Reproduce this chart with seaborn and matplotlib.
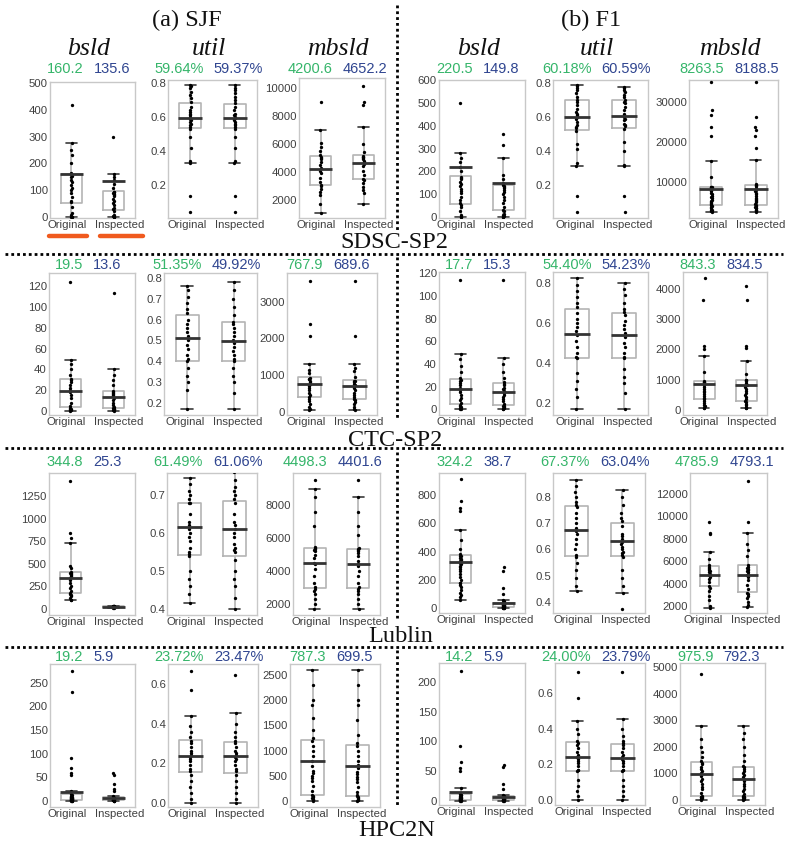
import matplotlib
matplotlib.use("Agg")
import matplotlib.pyplot as plt
import pandas as pd
import seaborn as sns
from matplotlib.lines import Line2D
from matplotlib.transforms import ScaledTranslation

# ---------------- data ----------------
groups = ["Original", "Inspected"]
metrics = ["bsld", "util", "mbsld"]
methods = ["SJF", "F1"]
method_titles = ["(a) SJF", "(b) F1"]
workloads = ["SDSC-SP2", "CTC-SP2", "Lublin", "HPC2N"]

# SDSC-SP2 / SJF
sdsc_sjf_bsld_original = [0, 1, 3, 8, 15, 40, 57, 62, 75, 90, 100, 110, 120, 130, 140, 150, 155, 160, 165, 200, 230, 250, 275, 415]
sdsc_sjf_bsld_inspected = [0, 1, 2, 5, 10, 25, 30, 35, 45, 55, 60, 70, 78, 84, 88, 91, 93, 96, 110, 125, 140, 150, 160, 300]
sdsc_sjf_util_original = [0.04, 0.135, 0.33, 0.34, 0.42, 0.48, 0.53, 0.54, 0.55, 0.56, 0.57, 0.58, 0.59, 0.60, 0.61, 0.62, 0.63, 0.64, 0.66, 0.69, 0.71, 0.73, 0.75, 0.77, 0.78, 0.79]
sdsc_sjf_util_inspected = [0.04, 0.135, 0.33, 0.34, 0.42, 0.48, 0.53, 0.54, 0.55, 0.56, 0.57, 0.58, 0.59, 0.595, 0.60, 0.61, 0.62, 0.64, 0.66, 0.68, 0.70, 0.72, 0.74, 0.76, 0.77, 0.79]
sdsc_sjf_mbsld_original = [1100, 1700, 2400, 2600, 2800, 3000, 3100, 3300, 3600, 3900, 4100, 4300, 4500, 4700, 4900, 5000, 5100, 5200, 5500, 5800, 6100, 7000, 9000]
sdsc_sjf_mbsld_inspected = [1700, 2500, 2700, 2900, 3200, 3400, 3500, 3800, 4100, 4400, 4600, 4700, 4800, 4900, 5000, 5050, 5100, 5150, 5400, 6000, 7200, 8800, 9000, 10100]
sdsc_sjf_means = [160.2, 135.6, 0.5964, 0.5937, 4200.6, 4652.2]

# SDSC-SP2 / F1
sdsc_f1_bsld_original = [0, 2, 10, 25, 45, 55, 60, 75, 90, 105, 115, 125, 135, 145, 155, 165, 170, 174, 200, 220, 240, 260, 280, 500]
sdsc_f1_bsld_inspected = [0, 1, 3, 8, 15, 28, 32, 45, 60, 75, 90, 100, 110, 120, 128, 133, 137, 140, 150, 165, 185, 260, 315, 365]
sdsc_f1_util_original = [0.04, 0.135, 0.31, 0.33, 0.41, 0.44, 0.52, 0.535, 0.54, 0.55, 0.57, 0.59, 0.60, 0.61, 0.62, 0.63, 0.65, 0.67, 0.69, 0.70, 0.72, 0.74, 0.76, 0.77, 0.78, 0.79]
sdsc_f1_util_inspected = [0.04, 0.135, 0.31, 0.32, 0.40, 0.45, 0.53, 0.545, 0.55, 0.56, 0.58, 0.59, 0.60, 0.61, 0.62, 0.64, 0.66, 0.68, 0.69, 0.70, 0.72, 0.73, 0.75, 0.76, 0.77, 0.775]
sdsc_f1_mbsld_original = [2500, 2700, 2900, 3100, 3400, 3700, 4000, 4200, 4400, 4700, 5000, 5300, 5600, 5900, 6200, 6500, 6900, 7300, 7700, 8100, 8400, 8600, 8700, 8750, 8800, 11200, 15200, 21400, 23700, 26700, 27900, 35000]
sdsc_f1_mbsld_inspected = [2500, 2700, 2900, 3100, 3400, 3600, 3800, 4000, 4300, 4600, 4900, 5200, 5500, 5800, 6100, 6500, 6900, 7300, 7700, 8100, 8500, 8900, 9200, 9300, 9400, 15500, 18500, 21400, 23000, 23700, 26200, 35000]
sdsc_f1_means = [220.5, 149.8, 0.6018, 0.6059, 8263.5, 8188.5]

# CTC-SP2 / SJF
ctc_sjf_bsld_original = [0, 0.5, 1, 1.5, 2, 3, 5, 8, 12, 15, 18, 20, 22, 25, 28, 30, 31, 35, 40, 45, 49, 124]
ctc_sjf_bsld_inspected = [0, 0.5, 1, 1.5, 2, 2.5, 4, 6, 8, 10, 12, 14, 15, 16, 17, 18, 19, 25, 30, 35, 40, 114]
ctc_sjf_util_original = [0.17, 0.26, 0.30, 0.33, 0.37, 0.40, 0.41, 0.43, 0.46, 0.48, 0.50, 0.52, 0.54, 0.56, 0.58, 0.60, 0.63, 0.65, 0.68, 0.71, 0.74, 0.76]
ctc_sjf_util_inspected = [0.17, 0.25, 0.30, 0.33, 0.37, 0.40, 0.41, 0.43, 0.45, 0.47, 0.49, 0.50, 0.52, 0.54, 0.56, 0.58, 0.59, 0.62, 0.66, 0.70, 0.74, 0.78]
ctc_sjf_mbsld_original = [50, 80, 120, 200, 280, 350, 400, 450, 500, 600, 650, 700, 750, 800, 850, 880, 900, 920, 1050, 1150, 1300, 2050, 2400, 3550]
ctc_sjf_mbsld_inspected = [50, 80, 120, 200, 260, 320, 340, 400, 450, 520, 580, 640, 680, 720, 760, 800, 830, 850, 950, 1100, 1200, 1300, 2050, 3550]
ctc_sjf_means = [19.5, 13.6, 0.5135, 0.4992, 767.9, 689.6]

# CTC-SP2 / F1
ctc_f1_bsld_original = [0, 0.5, 1, 2, 3, 4, 6, 8, 10, 13, 15, 17, 19, 21, 23, 25, 26, 28, 33, 38, 44, 49, 114]
ctc_f1_bsld_inspected = [0, 0.5, 1, 2, 2.5, 3, 5, 7, 9, 11, 13, 14, 16, 18, 19, 21, 22, 24, 28, 33, 40, 45, 114]
ctc_f1_util_original = [0.17, 0.23, 0.27, 0.31, 0.35, 0.425, 0.43, 0.45, 0.48, 0.51, 0.54, 0.56, 0.58, 0.60, 0.62, 0.65, 0.68, 0.70, 0.73, 0.76, 0.79, 0.825]
ctc_f1_util_inspected = [0.17, 0.25, 0.30, 0.33, 0.37, 0.425, 0.43, 0.45, 0.48, 0.50, 0.53, 0.55, 0.57, 0.59, 0.61, 0.64, 0.655, 0.67, 0.70, 0.74, 0.77, 0.80]
ctc_f1_mbsld_original = [50, 80, 120, 160, 220, 300, 360, 400, 450, 520, 580, 640, 700, 760, 810, 850, 890, 920, 940, 960, 1250, 1780, 2000, 2100, 3650, 4350]
ctc_f1_mbsld_inspected = [50, 80, 110, 150, 200, 260, 300, 350, 420, 500, 570, 640, 700, 760, 820, 860, 900, 950, 980, 1000, 1200, 1620, 2060, 2120, 3650, 4100]
ctc_f1_means = [17.7, 15.3, 0.5440, 0.5423, 843.3, 834.5]

# Lublin / SJF
lublin_sjf_bsld_original = [95, 105, 120, 140, 160, 170, 180, 200, 230, 260, 290, 320, 345, 360, 375, 385, 395, 400, 410, 450, 480, 730, 780, 840, 1420]
lublin_sjf_bsld_inspected = [12, 15, 18, 20, 22, 23, 24, 25, 26, 27, 28, 30, 32, 35, 38]
lublin_sjf_util_original = [0.415, 0.44, 0.46, 0.48, 0.50, 0.54, 0.545, 0.55, 0.56, 0.58, 0.59, 0.60, 0.61, 0.62, 0.63, 0.65, 0.68, 0.68, 0.69, 0.70, 0.71, 0.73, 0.745]
lublin_sjf_util_inspected = [0.40, 0.43, 0.46, 0.48, 0.50, 0.53, 0.55, 0.555, 0.56, 0.57, 0.59, 0.60, 0.61, 0.62, 0.63, 0.65, 0.68, 0.69, 0.70, 0.71, 0.72, 0.74, 0.76]
lublin_sjf_mbsld_original = [1700, 2000, 2300, 2600, 2800, 2900, 3000, 3300, 3700, 4100, 4400, 4500, 4800, 5000, 5200, 5300, 5350, 5400, 5450, 6700, 7600, 8500, 9000, 9500]
lublin_sjf_mbsld_inspected = [1700, 2000, 2300, 2600, 2800, 2900, 3000, 3300, 3700, 4000, 4300, 4400, 4600, 4900, 5100, 5200, 5300, 5350, 5400, 6200, 6700, 7600, 8500, 9500]
lublin_sjf_means = [344.8, 25.3, 0.6149, 0.6106, 4498.3, 4401.6]

# Lublin / F1
lublin_f1_bsld_original = [60, 75, 90, 110, 130, 150, 165, 175, 180, 200, 220, 240, 260, 275, 290, 300, 310, 320, 330, 340, 345, 355, 365, 372, 380, 420, 480, 550, 690, 710, 760, 910]
lublin_f1_bsld_inspected = [0, 1, 2, 3, 5, 6, 8, 10, 12, 14, 16, 18, 20, 22, 24, 26, 28, 30, 32, 35, 40, 50, 60, 100, 140, 260, 290]
lublin_f1_util_original = [0.44, 0.46, 0.49, 0.52, 0.55, 0.57, 0.58, 0.60, 0.62, 0.64, 0.66, 0.67, 0.68, 0.70, 0.72, 0.74, 0.76, 0.77, 0.78, 0.80, 0.82, 0.84, 0.865]
lublin_f1_util_inspected = [0.375, 0.435, 0.46, 0.49, 0.52, 0.57, 0.58, 0.585, 0.59, 0.60, 0.61, 0.62, 0.63, 0.64, 0.65, 0.66, 0.69, 0.71, 0.72, 0.74, 0.77, 0.80, 0.825]
lublin_f1_mbsld_original = [1800, 2000, 2500, 2900, 3300, 3600, 3800, 4100, 4400, 4600, 4800, 4900, 5000, 5100, 5200, 5300, 5400, 5500, 5700, 6200, 6800, 8400, 8500, 9500]
lublin_f1_mbsld_inspected = [1900, 2100, 2400, 2700, 2900, 3100, 3200, 3500, 3900, 4300, 4600, 4800, 4900, 5000, 5100, 5200, 5300, 5400, 5450, 5700, 6500, 7000, 7500, 8500, 9500, 13200]
lublin_f1_means = [324.2, 38.7, 0.6737, 0.6304, 4785.9, 4793.1]

# HPC2N / SJF
hpc_sjf_bsld_original = [0, 0.3, 0.6, 1, 1.3, 1.6, 2, 2.5, 3, 3.5, 4, 4.5, 5, 5.5, 6, 6.5, 7, 7.5, 8, 9, 10, 12, 15, 20, 55, 58, 70, 90, 230, 275]
hpc_sjf_bsld_inspected = [0, 0.3, 0.6, 1, 1.3, 1.6, 2, 2.5, 3, 3.5, 4, 4.5, 5, 5.5, 6, 6.5, 7, 8, 10, 20, 25, 35, 55, 58]
hpc_sjf_util_original = [0.0, 0.02, 0.05, 0.08, 0.11, 0.14, 0.16, 0.17, 0.19, 0.21, 0.22, 0.23, 0.24, 0.25, 0.26, 0.28, 0.30, 0.31, 0.33, 0.36, 0.39, 0.44, 0.57, 0.665]
hpc_sjf_util_inspected = [0.0, 0.02, 0.05, 0.08, 0.11, 0.14, 0.16, 0.17, 0.19, 0.21, 0.22, 0.23, 0.24, 0.25, 0.26, 0.28, 0.30, 0.31, 0.33, 0.36, 0.40, 0.455, 0.645]
hpc_sjf_mbsld_original = [0, 10, 20, 40, 60, 80, 100, 120, 200, 300, 400, 450, 500, 550, 600, 700, 800, 900, 1000, 1100, 1200, 1250, 1400, 1650, 1900, 2000, 2300, 2600]
hpc_sjf_mbsld_inspected = [0, 10, 20, 40, 60, 80, 95, 110, 180, 280, 380, 430, 480, 530, 580, 650, 720, 800, 900, 1000, 1100, 1150, 1300, 1600, 1900, 2000, 2300, 2600]
hpc_sjf_means = [19.2, 5.9, 0.2372, 0.2347, 787.3, 699.5]

# HPC2N / F1
hpc_f1_bsld_original = [0, 0.3, 0.6, 1, 1.3, 1.6, 2, 2.5, 3, 3.5, 4, 4.5, 5, 5.5, 6, 7, 8, 9, 10, 12, 22, 50, 55, 65, 92, 218]
hpc_f1_bsld_inspected = [0, 0.3, 0.6, 1, 1.3, 1.6, 2, 2.5, 3, 3.5, 4, 4.5, 5, 5.5, 6, 6.5, 7, 8, 10, 20, 28, 57, 60]
hpc_f1_util_original = [0.0, 0.02, 0.05, 0.08, 0.11, 0.16, 0.167, 0.17, 0.19, 0.21, 0.22, 0.23, 0.24, 0.25, 0.27, 0.29, 0.31, 0.32, 0.33, 0.37, 0.40, 0.445, 0.57, 0.72]
hpc_f1_util_inspected = [0.0, 0.02, 0.05, 0.08, 0.11, 0.16, 0.167, 0.17, 0.19, 0.21, 0.22, 0.23, 0.24, 0.25, 0.27, 0.29, 0.31, 0.32, 0.33, 0.36, 0.40, 0.455, 0.72]
hpc_f1_mbsld_original = [0, 20, 50, 80, 100, 120, 125, 135, 250, 400, 500, 600, 700, 800, 900, 1000, 1100, 1150, 1250, 1350, 1400, 1450, 1600, 1800, 2000, 2300, 2780, 4750]
hpc_f1_mbsld_inspected = [0, 20, 50, 80, 100, 120, 125, 135, 220, 320, 420, 520, 620, 700, 780, 860, 940, 1020, 1100, 1180, 1250, 1280, 1450, 1700, 2000, 2300, 2500, 2780]
hpc_f1_means = [14.2, 5.9, 0.2400, 0.2379, 975.9, 792.3]

# y tick labels per panel (workload, method) -> [bsld, util, mbsld]
yticks = {
    ("SDSC-SP2", "SJF"): [[0, 100, 200, 300, 400, 500], [0.2, 0.4, 0.6, 0.8], [2000, 4000, 6000, 8000, 10000]],
    ("SDSC-SP2", "F1"): [[0, 100, 200, 300, 400, 500, 600], [0.2, 0.4, 0.6, 0.8], [10000, 20000, 30000]],
    ("CTC-SP2", "SJF"): [[0, 20, 40, 60, 80, 100, 120], [0.2, 0.3, 0.4, 0.5, 0.6, 0.7, 0.8], [0, 1000, 2000, 3000]],
    ("CTC-SP2", "F1"): [[0, 20, 40, 60, 80, 100, 120], [0.2, 0.4, 0.6, 0.8], [0, 1000, 2000, 3000, 4000]],
    ("Lublin", "SJF"): [[0, 250, 500, 750, 1000, 1250], [0.4, 0.5, 0.6, 0.7], [2000, 4000, 6000, 8000]],
    ("Lublin", "F1"): [[0, 200, 400, 600, 800], [0.4, 0.5, 0.6, 0.7, 0.8], [2000, 4000, 6000, 8000, 10000, 12000]],
    ("HPC2N", "SJF"): [[0, 50, 100, 150, 200, 250], [0.0, 0.2, 0.4, 0.6], [0, 500, 1000, 1500, 2000, 2500]],
    ("HPC2N", "F1"): [[0, 50, 100, 150, 200], [0.0, 0.2, 0.4, 0.6], [0, 1000, 2000, 3000, 4000, 5000]],
}

series = {
    ("SDSC-SP2", "SJF"): [(sdsc_sjf_bsld_original, sdsc_sjf_bsld_inspected), (sdsc_sjf_util_original, sdsc_sjf_util_inspected), (sdsc_sjf_mbsld_original, sdsc_sjf_mbsld_inspected)],
    ("SDSC-SP2", "F1"): [(sdsc_f1_bsld_original, sdsc_f1_bsld_inspected), (sdsc_f1_util_original, sdsc_f1_util_inspected), (sdsc_f1_mbsld_original, sdsc_f1_mbsld_inspected)],
    ("CTC-SP2", "SJF"): [(ctc_sjf_bsld_original, ctc_sjf_bsld_inspected), (ctc_sjf_util_original, ctc_sjf_util_inspected), (ctc_sjf_mbsld_original, ctc_sjf_mbsld_inspected)],
    ("CTC-SP2", "F1"): [(ctc_f1_bsld_original, ctc_f1_bsld_inspected), (ctc_f1_util_original, ctc_f1_util_inspected), (ctc_f1_mbsld_original, ctc_f1_mbsld_inspected)],
    ("Lublin", "SJF"): [(lublin_sjf_bsld_original, lublin_sjf_bsld_inspected), (lublin_sjf_util_original, lublin_sjf_util_inspected), (lublin_sjf_mbsld_original, lublin_sjf_mbsld_inspected)],
    ("Lublin", "F1"): [(lublin_f1_bsld_original, lublin_f1_bsld_inspected), (lublin_f1_util_original, lublin_f1_util_inspected), (lublin_f1_mbsld_original, lublin_f1_mbsld_inspected)],
    ("HPC2N", "SJF"): [(hpc_sjf_bsld_original, hpc_sjf_bsld_inspected), (hpc_sjf_util_original, hpc_sjf_util_inspected), (hpc_sjf_mbsld_original, hpc_sjf_mbsld_inspected)],
    ("HPC2N", "F1"): [(hpc_f1_bsld_original, hpc_f1_bsld_inspected), (hpc_f1_util_original, hpc_f1_util_inspected), (hpc_f1_mbsld_original, hpc_f1_mbsld_inspected)],
}
means = {
    ("SDSC-SP2", "SJF"): sdsc_sjf_means, ("SDSC-SP2", "F1"): sdsc_f1_means,
    ("CTC-SP2", "SJF"): ctc_sjf_means, ("CTC-SP2", "F1"): ctc_f1_means,
    ("Lublin", "SJF"): lublin_sjf_means, ("Lublin", "F1"): lublin_f1_means,
    ("HPC2N", "SJF"): hpc_sjf_means, ("HPC2N", "F1"): hpc_f1_means,
}

# ---------------- layout (pixels) ----------------
W, H = 788, 841
boxes = {
    ("SDSC-SP2", "SJF"): [(50, 135, 82, 218), (168, 257, 80, 218), (299, 385, 78, 218)],
    ("SDSC-SP2", "F1"): [(439, 525, 80, 218), (553, 648, 80, 218), (689, 778, 80, 218)],
    ("CTC-SP2", "SJF"): [(49, 135, 273, 415), (164, 257, 273, 415), (287, 377, 273, 415)],
    ("CTC-SP2", "F1"): [(439, 525, 272, 415), (553, 648, 272, 415), (683, 767, 272, 415)],
    ("Lublin", "SJF"): [(49, 135, 473, 615), (167, 257, 473, 615), (293, 380, 473, 615)],
    ("Lublin", "F1"): [(439, 525, 473, 613), (553, 645, 473, 613), (690, 767, 473, 613)],
    ("HPC2N", "SJF"): [(50, 135, 664, 807), (168, 258, 664, 807), (290, 380, 664, 807)],
    ("HPC2N", "F1"): [(439, 525, 663, 805), (555, 645, 663, 805), (680, 765, 663, 805)],
}
ylims = {
    ("SDSC-SP2", "SJF"): [(-2, 502), (0.005, 0.818), (730, 10690)],
    ("SDSC-SP2", "F1"): [(-4, 600), (0.005, 0.818), (1000, 35500)],
    ("CTC-SP2", "SJF"): [(-4, 133), (0.142, 0.824), (-90, 3780)],
    ("CTC-SP2", "F1"): [(-5, 121), (0.14, 0.855), (-165, 4560)],
    ("Lublin", "SJF"): [(-66, 1504), (0.384, 0.758), (1333, 9940)],
    ("Lublin", "F1"): [(-35, 956), (0.358, 0.891), (1375, 13875)],
    ("HPC2N", "SJF"): [(-13, 290), (-0.02, 0.70), (-119, 2718)],
    ("HPC2N", "F1"): [(-7, 232), (-0.028, 0.768), (-188, 5150)],
}
number_y = {"SDSC-SP2": 69, "CTC-SP2": 265, "Lublin": 462, "HPC2N": 657}
row_label_pos = {"SDSC-SP2": (394, 243), "CTC-SP2": (395, 440), "Lublin": (401, 637), "HPC2N": (397, 830)}

GREEN = "#35b56a"
BLUE = "#2f4590"
BOX_GRAY = "#b4b4b4"

sns.set_theme(style="white")
plt.rcParams["font.family"] = ["Liberation Sans", "DejaVu Sans"]

fig = plt.figure(figsize=(W / 100, H / 100), dpi=100)


def fx(x):
    return x / W


def fy(y):
    return 1 - y / H


for wl in workloads:
    for m in methods:
        for k, metric in enumerate(metrics):
            l, r, t, b = boxes[(wl, m)][k]
            ax = fig.add_axes([fx(l), fy(b), (r - l) / W, (b - t) / H])
            orig, insp = series[(wl, m)][k]
            df = pd.DataFrame({
                "group": [groups[0]] * len(orig) + [groups[1]] * len(insp),
                "value": list(orig) + list(insp),
            })
            sns.boxplot(data=df, x="group", y="value", order=groups, ax=ax,
                        width=0.5, fill=False, showfliers=False, whis=1.5,
                        boxprops=dict(color=BOX_GRAY, linewidth=1.2),
                        whiskerprops=dict(color=BOX_GRAY, linewidth=1.2),
                        capprops=dict(color="#3a3a3a", linewidth=1.2),
                        medianprops=dict(color="none", linewidth=0))
            sns.stripplot(data=df, x="group", y="value", order=groups, ax=ax,
                          color="black", size=2.4, jitter=0.015, zorder=3)
            mv = means[(wl, m)][2 * k:2 * k + 2]
            for i, v in enumerate(mv):
                ax.hlines(v, i - 0.27, i + 0.27, colors="#333333", linewidth=2.0, zorder=4)
            ax.set_xlim(-0.5, 1.5)
            ax.set_ylim(*ylims[(wl, m)][k])
            ticks = yticks[(wl, m)][k]
            ax.set_yticks(ticks)
            if metric == "util":
                ax.set_yticklabels([f"{v:.1f}" for v in ticks])
            else:
                ax.set_yticklabels([f"{v:g}" for v in ticks])
            ax.set_xlabel("")
            ax.set_ylabel("")
            ax.tick_params(axis="both", length=0, labelsize=8.2, labelcolor="#404040", pad=1.5)
            # spread the two category labels a little so they do not collide
            extra = max(0.0, 48.5 - (r - l) / 2)
            xl = ax.get_xticklabels()
            xl[0].set_transform(xl[0].get_transform() +
                                ScaledTranslation(-(1.5 + extra / 2) / 100, 0, fig.dpi_scale_trans))
            xl[1].set_transform(xl[1].get_transform() +
                                ScaledTranslation((2.5 + extra / 2) / 100, 0, fig.dpi_scale_trans))
            for sp in ax.spines.values():
                sp.set_visible(True)
                sp.set_color("#c8c8c8")
                sp.set_linewidth(1.0)

            # mean value labels above each panel
            cx = (l + r) / 2 - 4
            if metric == "util":
                txt = [f"{v * 100:.2f}%" for v in mv]
            else:
                txt = [f"{v:.1f}" for v in mv]
            ny = number_y[wl]
            fig.text(fx(cx - 5), fy(ny), txt[0], color=GREEN, fontsize=10.5,
                     ha="right", va="center")
            fig.text(fx(cx + 5), fy(ny), txt[1], color=BLUE, fontsize=10.5,
                     ha="left", va="center")

            if wl == workloads[0]:
                fig.text(fx(cx), fy(49), metric, fontsize=18.5, style="italic",
                         family="Liberation Serif", ha="center", va="center", color="#111111")

# method headers
fig.text(fx(187), fy(20), method_titles[0], fontsize=17.5, family="Liberation Serif",
         ha="center", va="center", color="#111111")
fig.text(fx(591), fy(20), method_titles[1], fontsize=17.5, family="Liberation Serif",
         ha="center", va="center", color="#111111")

# workload row labels
for wl in workloads:
    x, y = row_label_pos[wl]
    fig.text(fx(x), fy(y), wl, fontsize=17.5, family="Liberation Serif",
             ha="center", va="center", color="#111111")

# dotted separators
dot = dict(color="black", linewidth=2.0, linestyle=(0, (1, 1.1)), dash_capstyle="butt",
           transform=fig.transFigure)
for y in (254, 448, 647):
    fig.add_artist(Line2D([fx(5), fx(783)], [fy(y), fy(y)], **dot))
for y0, y1 in ((5, 230), (257, 418), (452, 618), (650, 806)):
    fig.add_artist(Line2D([fx(397), fx(397)], [fy(y0), fy(y1)], **dot))

# orange underline marks under the first panel
for x0, x1 in ((49, 87), (100, 143)):
    fig.add_artist(Line2D([fx(x0), fx(x1)], [fy(236), fy(236)], color="#f05a1e",
                          linewidth=3.2, solid_capstyle="round", transform=fig.transFigure))

fig.savefig("out.png", dpi=100, facecolor="white")
